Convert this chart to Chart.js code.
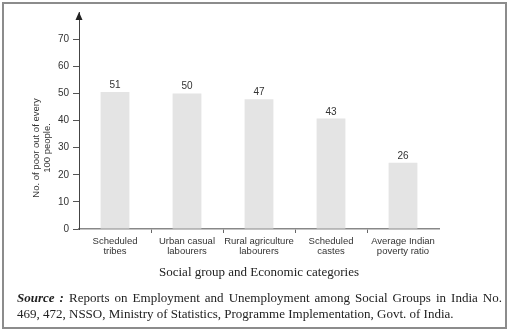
<!DOCTYPE html>
<html>
<head>
<meta charset="utf-8">
<script src="https://cdn.jsdelivr.net/npm/chart.js@4/dist/chart.umd.min.js"></script>
<style>
  body { margin: 0; background: #fff; }
  .wrap { position: relative; width: 509px; height: 331px; }
  .frame { position: absolute; left: 2px; top: 2px; width: 501px; height: 323px; border: 2px solid #8c8c8c; pointer-events: none; }
  .source { position: absolute; left: 17px; top: 290px; width: 485px; font: 13px 'Liberation Serif', 'Times New Roman', serif; line-height: 16px; color: #222; }
  .source .l1 { text-align: justify; text-align-last: justify; }
</style>
</head>
<body>
<div class="wrap">
  <canvas id="chart" width="509" height="331"></canvas>
  <div class="frame"></div>
  <div class="source">
    <div class="l1"><b><i>Source :</i></b> Reports on Employment and Unemployment among Social Groups in India No.</div>
    <div>469, 472, NSSO, Ministry of Statistics, Programme Implementation, Govt. of India.</div>
  </div>
</div>
<script>
const categories = [
  ['Scheduled', 'tribes'],
  ['Urban casual', 'labourers'],
  ['Rural agriculture', 'labourers'],
  ['Scheduled', 'castes'],
  ['Average Indian', 'poverty ratio']
];
// printed values above the bars
const valueLabels = ['51', '50', '47', '43', '26'];
// bar heights as drawn in the picture
const barHeights = [50.5, 50, 47.8, 40.7, 24.4];
const yTicks = [0, 10, 20, 30, 40, 50, 60, 70];
const yTitle = ['No. of poor out of every', '100 people.'];

const sans = "'Liberation Sans', Arial, sans-serif";

const extras = {
  id: 'extras',
  afterDatasetsDraw(chart) {
    const ctx = chart.ctx;
    const bars = chart.getDatasetMeta(0).data;
    ctx.save();
    ctx.fillStyle = '#333';
    ctx.font = '10px ' + sans;
    ctx.textAlign = 'center';
    ctx.textBaseline = 'alphabetic';
    bars.forEach((bar, i) => ctx.fillText(valueLabels[i], bar.x, bar.y - 4));
    ctx.restore();
  },
  afterDraw(chart) {
    const ctx = chart.ctx;
    const { left, top } = chart.chartArea;
    ctx.save();
    // arrow on top of y axis
    ctx.fillStyle = '#222';
    ctx.beginPath();
    ctx.moveTo(left, top);
    ctx.lineTo(left - 3.5, top + 8);
    ctx.lineTo(left + 3.5, top + 8);
    ctx.closePath();
    ctx.fill();
    // y axis title
    ctx.translate(36, 148);
    ctx.rotate(-Math.PI / 2);
    ctx.font = '9.5px ' + sans;
    ctx.fillStyle = '#333';
    ctx.textAlign = 'center';
    ctx.textBaseline = 'middle';
    yTitle.forEach((line, i) => ctx.fillText(line, 0, i * 11));
    ctx.restore();
  }
};

new Chart(document.getElementById('chart'), {
  type: 'bar',
  data: {
    labels: categories,
    datasets: [{
      data: barHeights,
      backgroundColor: '#e4e4e4',
      borderWidth: 0,
      categoryPercentage: 1,
      barPercentage: 0.4
    }]
  },
  options: {
    responsive: false,
    animation: false,
    layout: { padding: { left: 0, top: 12, right: 70, bottom: 47 } },
    plugins: { legend: { display: false }, tooltip: { enabled: false } },
    scales: {
      x: {
        afterFit(scale) { scale.height = 55; },
        grid: {
          drawOnChartArea: false,
          tickLength: 4,
          color: c => (c.type === 'tick' && c.index > 0) ? '#666' : 'rgba(0,0,0,0)'
        },
        border: { color: '#888', width: 1.5 },
        ticks: {
          color: '#333',
          font: { family: sans, size: 9.5, lineHeight: 1.1 },
          padding: 3,
          maxRotation: 0,
          autoSkip: false
        },
        title: {
          display: true,
          text: 'Social group and Economic categories',
          color: '#222',
          font: { family: "'Liberation Serif', 'Times New Roman', serif", size: 13 },
          padding: { top: 0, bottom: 4 }
        }
      },
      y: {
        min: 0,
        max: 80,
        afterFit(scale) { scale.width = 79; },
        afterBuildTicks(scale) { scale.ticks = yTicks.concat([80]).map(v => ({ value: v })); },
        grid: {
          drawOnChartArea: false,
          tickLength: 6,
          color: c => (c.tick && c.tick.value === 80) ? 'rgba(0,0,0,0)' : '#555'
        },
        border: { color: '#444', width: 1 },
        ticks: {
          color: '#333',
          font: { family: sans, size: 10 },
          padding: 4,
          callback: v => yTicks.includes(v) ? String(v) : ''
        }
      }
    }
  },
  plugins: [extras]
});
</script>
</body>
</html>
